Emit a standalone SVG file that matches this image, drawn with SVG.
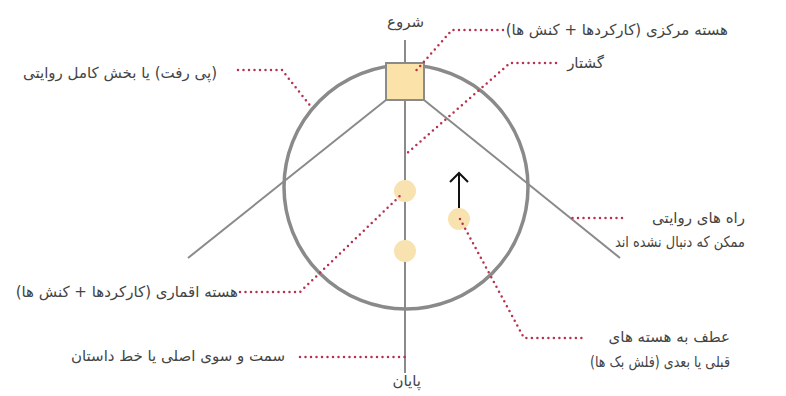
<svg xmlns="http://www.w3.org/2000/svg" width="786" height="396" viewBox="0 0 786 396">
<defs>
<style>
.lbl{font-family:"DejaVu Sans","Noto Sans",sans-serif;font-size:15px;fill:#444;direction:rtl;text-anchor:start}
.dot{fill:none;stroke:#b8304c;stroke-width:2.5;stroke-linecap:round;stroke-dasharray:0 5.5;stroke-linejoin:round}
.ln{stroke:#8a8a8a;stroke-width:2;fill:none}
.nuc{fill:#f8e3b0}
</style>
</defs>
<rect width="786" height="396" fill="#fff"/>
<g id="structure">
<line class="ln" x1="405" y1="40" x2="405" y2="373"/>
<line class="ln" x1="386" y1="100" x2="188" y2="258"/>
<line class="ln" x1="424" y1="100" x2="620" y2="258"/>
<circle cx="406" cy="187" r="122" fill="none" stroke="#8a8a8a" stroke-width="3.5"/>
</g>
<g id="central-core"><rect x="386" y="63" width="38" height="37" fill="#fbe2a8" stroke="#8a8a8a" stroke-width="2"/></g>
<g id="satellite-1"><circle class="nuc" cx="405" cy="191" r="11"/></g>
<g id="satellite-2"><circle class="nuc" cx="405" cy="251" r="11"/></g>
<g id="flashback-core"><circle class="nuc" cx="459" cy="219" r="11"/>
<path d="M459 208 V173 M450 182 L459 173 L468 182" fill="none" stroke="#111" stroke-width="2"/></g>
<g id="connectors">
<path class="dot" d="M238 70 H282 L312 108"/>
<path class="dot" d="M503 30 H452 L414 73"/>
<path class="dot" d="M556 63 H510 L405 155"/>
<path class="dot" d="M240 292 H300 L403 193"/>
<path class="dot" d="M622 218 H567"/>
<path class="dot" d="M460 219 L524 338 H585"/>
<path class="dot" d="M300 357 H405"/>
</g>
<g id="labels">
<text class="lbl" x="424" y="27">شروع</text>
<text class="lbl" x="421" y="386">پایان</text>
<text class="lbl" x="217" y="78">(پی رفت) یا بخش کامل روایتی</text>
<text class="lbl" x="728" y="35">هسته مرکزی (کارکردها + کنش ها)</text>
<text class="lbl" x="604" y="68">گشتار</text>
<text class="lbl" x="238" y="297">هسته اقماری (کارکردها + کنش ها)</text>
<text class="lbl" x="285" y="361">سمت و سوی اصلی یا خط داستان</text>
<text class="lbl" x="745" y="223">راه های روایتی</text>
<text class="lbl" x="745" y="247" textLength="130" lengthAdjust="spacingAndGlyphs">ممکن که دنبال نشده اند</text>
<text class="lbl" x="730" y="342">عطف به هسته های</text>
<text class="lbl" x="730" y="367" textLength="140" lengthAdjust="spacingAndGlyphs">قبلی یا بعدی (فلش بک ها)</text>
</g>
</svg>
